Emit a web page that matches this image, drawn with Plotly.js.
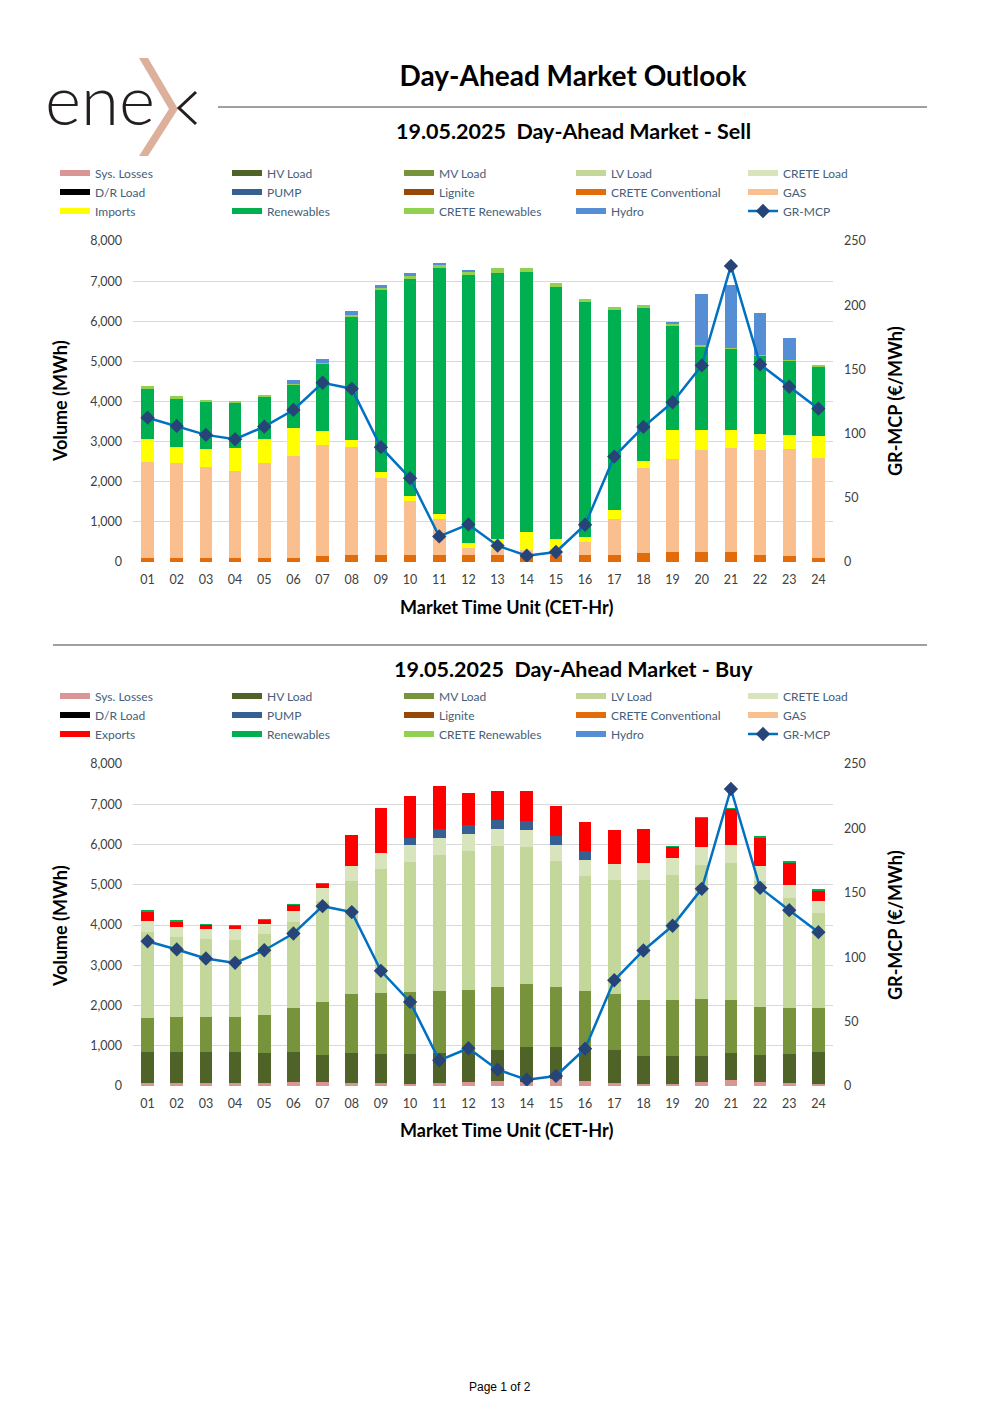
<!DOCTYPE html>
<html>
<head>
<meta charset="utf-8">
<script src="https://cdn.plot.ly/plotly-3.0.1.min.js"></script>
<style>
html,body{margin:0;padding:0;background:#fff;}
#chart{width:1000px;height:1415px;}
</style>
</head>
<body>
<div id="chart"></div>
<script>
// ---------- DATA ----------
const hours = ["01","02","03","04","05","06","07","08","09","10","11","12","13","14","15","16","17","18","19","20","21","22","23","24"];

// GR-MCP (€/MWh)
const mcp = [112.4,106.0,99.0,95.6,105.4,118.4,139.6,135.0,89.4,65.3,19.9,29.3,12.7,4.9,7.8,29.0,82.1,105.2,124.4,153.1,230.6,153.9,136.5,119.4];

// SELL side (MWh)
const sellCreteConv = [100,90,90,90,90,108,140,182,182,182,182,174,174,174,174,174,182,216,240,257,240,182,141,100];
const sellGas       = [2404,2380,2281,2190,2381,2545,2779,2687,1916,1344,896,167,142,125,86,333,896,2139,2339,2546,2596,2604,2678,2487];
const sellImports   = [556,390,440,572,589,697,348,174,141,107,124,141,249,441,306,108,216,157,713,481,456,415,357,547];
const sellRenew     = [1243,1203,1169,1103,1044,1061,1658,3068,4535,5432,6128,6682,6649,6482,6291,5853,4983,3823,2595,2081,2007,1932,1824,1717];
const sellCreteRen  = [75,66,58,50,50,33,42,33,59,58,66,75,108,108,100,83,75,58,33,33,24,33,33,49];
const sellHydro     = [0,0,0,0,0,83,91,100,82,91,67,50,0,0,0,0,0,0,58,1285,1592,1028,556,0];

// BUY side (MWh)
const buyLosses  = [83,83,83,83,83,91,91,66,66,58,66,100,124,100,166,124,66,50,50,100,141,108,75,50];
const buyHV      = [755,763,763,755,747,747,681,764,722,747,764,746,772,871,805,781,822,689,689,655,672,655,730,788];
const buyMV      = [863,864,864,872,938,1096,1311,1452,1527,1527,1527,1544,1560,1568,1494,1452,1394,1402,1394,1403,1320,1195,1137,1104];
const buyLV      = [2125,1983,1941,1925,2008,2141,2515,2822,3087,3245,3386,3461,3511,3403,3128,2863,2838,2988,3120,3344,3419,3146,2738,2365];
const buyCrete   = [274,266,258,257,257,282,331,365,399,415,415,415,415,423,399,390,407,406,423,432,431,365,324,291];
const buyPump    = [0,0,0,0,0,0,0,0,0,166,224,224,224,216,224,224,0,0,0,0,0,0,0,0];
const buyExports = [232,124,83,83,83,133,100,755,1104,1054,1070,788,714,747,738,714,822,855,266,713,897,705,548,257];
const buyRenew   = [33,33,41,33,33,25,17,0,0,0,0,0,0,0,0,0,0,0,25,33,25,25,33,41];

const zeros = hours.map(() => 0);

// series names / colours
const names = {
  loss:"Sys. Losses", hv:"HV Load", mv:"MV Load", lv:"LV Load", crl:"CRETE Load",
  dr:"D/R Load", pump:"PUMP", lig:"Lignite", crc:"CRETE Conventional", gas:"GAS",
  imp:"Imports", exp:"Exports", ren:"Renewables", crr:"CRETE Renewables", hyd:"Hydro", mcp:"GR-MCP"
};
const colors = {
  loss:"#DA9694", hv:"#4F6228", mv:"#77933C", lv:"#C4D79B", crl:"#D8E4BC",
  dr:"#000000", pump:"#376092", lig:"#974706", crc:"#E26B0A", gas:"#FABF8F",
  imp:"#FFFF00", exp:"#FF0000", ren:"#00B050", crr:"#92D050", hyd:"#558ED5",
  mcpLine:"#0070C0", mcpMarker:"#264478"
};

// ---------- helpers ----------
const W = 1000, H = 1415;
const X = p => p / W;
const Y = p => 1 - p / H;
const FONT = "Lato, 'Open Sans', sans-serif";

const traces = [];

function addBars(xa, ya, order, dataMap) {
  order.forEach(k => {
    traces.push({
      type: "bar", x: hours, y: dataMap[k] || zeros, name: names[k],
      marker: {color: colors[k], line: {width: 0}},
      xaxis: xa, yaxis: ya, showlegend: false, hoverinfo: "x+y+name"
    });
  });
}

const stackOrder = ["loss","hv","mv","lv","crl","dr","pump","lig","crc","gas","imp","exp","ren","crr","hyd"];

addBars("x","y", stackOrder, {crc:sellCreteConv, gas:sellGas, imp:sellImports, ren:sellRenew, crr:sellCreteRen, hyd:sellHydro});
addBars("x2","y3", stackOrder, {loss:buyLosses, hv:buyHV, mv:buyMV, lv:buyLV, crl:buyCrete, pump:buyPump, exp:buyExports, ren:buyRenew});

// MCP lines
function mcpTrace(xa, ya, leg) {
  return {
    type: "scatter", mode: "lines+markers", x: hours, y: mcp, name: names.mcp,
    line: {color: colors.mcpLine, width: 2.5},
    marker: {symbol: "diamond", size: 11, color: colors.mcpMarker},
    xaxis: xa, yaxis: ya, legend: leg, showlegend: true
  };
}

// Legend columns (swatch entries)
function legendEntry(k, leg, xa, ya) {
  return {
    type: "scatter", mode: "lines", x: [null], y: [null], name: names[k],
    line: {color: colors[k], width: 6}, xaxis: xa, yaxis: ya,
    legend: leg, showlegend: true, hoverinfo: "skip"
  };
}
const sellCols = [["loss","dr","imp"],["hv","pump","ren"],["mv","lig","crr"],["lv","crc","hyd"],["crl","gas"]];
const buyCols  = [["loss","dr","exp"],["hv","pump","ren"],["mv","lig","crr"],["lv","crc","hyd"],["crl","gas"]];
const colX = [63, 235, 407, 579, 751];

const legends = {};
function buildLegends(cols, base, xa, ya, topPx) {
  cols.forEach((col, i) => {
    const id = (base + i) === 1 ? "legend" : "legend" + (base + i);
    col.forEach(k => traces.push(legendEntry(k, id, xa, ya)));
    if (i === 4) traces.push(mcpTrace(xa, ya === "y" ? "y2" : "y4", id));
    legends[id] = {
      xref: "paper", yref: "paper",
      x: X(colX[i] - 8), y: Y(topPx), xanchor: "left", yanchor: "top",
      orientation: "v", traceorder: "normal", itemwidth: 30, tracegroupgap: 0,
      bgcolor: "rgba(0,0,0,0)", borderwidth: 0,
      font: {family: FONT, size: 12, color: "#44607A"}, itemclick: false, itemdoubleclick: false
    };
  });
}
buildLegends(sellCols, 1, "x", "y", 158.5);
buildLegends(buyCols, 6, "x2", "y3", 681.5);

// ---------- axes ----------
const tickFont = {family: FONT, size: 12.5, color: "#404040"};
const dom = [X(133), X(833)];
function xAxis(anchor) {
  return {domain: dom, anchor: anchor, type: "category", range: [-0.5, hours.length - 0.5],
          showgrid: false, zeroline: false,
          showline: false, ticks: "", tickfont: tickFont, ticklabelstandoff: 8, fixedrange: true, automargin: false};
}
function yLeft(domain, anchor) {
  return {domain: domain, anchor: anchor, range: [0, 8000], dtick: 1000, tick0: 0, tickformat: ",d",
          showgrid: true, gridcolor: "#D9D9D9", gridwidth: 1, zeroline: false, showline: false,
          ticks: "", tickfont: tickFont, ticklabelstandoff: 10, fixedrange: true, automargin: false};
}
function yRight(over, anchor) {
  return {overlaying: over, anchor: anchor, side: "right", range: [0, 250], dtick: 50, tick0: 0,
          showgrid: false, zeroline: false, showline: false, ticks: "", tickfont: tickFont,
          ticklabelstandoff: 10, fixedrange: true, automargin: false};
}

// ---------- annotations ----------
const titleFont = s => ({family: FONT, size: s, color: "#000000", weight: "bold"});
const ann = [];
function addText(text, xp, yp, font, extra) {
  ann.push(Object.assign({text: text, xref: "paper", yref: "paper", x: X(xp), y: Y(yp),
    xanchor: "center", yanchor: "middle", showarrow: false, font: font}, extra || {}));
}
addText("19.05.2025\u00a0\u00a0Day-Ahead Market - Sell", 573, 131, titleFont(21.5));
addText("19.05.2025\u00a0\u00a0Day-Ahead Market - Buy", 573, 669, titleFont(21.5));
addText("Volume (MWh)", 60, 401, titleFont(18), {textangle: -90});
addText("GR-MCP (€/MWh)", 895, 401, titleFont(18), {textangle: -90});
addText("Market Time Unit (CET-Hr)", 506, 607, titleFont(18));
addText("Volume (MWh)", 60, 926, titleFont(18), {textangle: -90});
addText("GR-MCP (€/MWh)", 895, 925, titleFont(18), {textangle: -90});
addText("Market Time Unit (CET-Hr)", 506, 1130, titleFont(18));
addText("Page 1 of 2", 500, 1387, {family: "'Liberation Sans', Arial, sans-serif", size: 12, color: "#000000"});
// logo text
addText("ene", 100, 99, {family: FONT, size: 69, color: "#231F20", weight: 300});

// ---------- shapes ----------
function pathOf(pts) {
  return "M" + pts.map(p => X(p[0]) + "," + Y(p[1])).join(" L") ;
}
const shapes = [
  {type: "line", xref: "paper", yref: "paper", x0: X(218), x1: X(927), y0: Y(107), y1: Y(107),
   line: {color: "#404040", width: 1}},
  {type: "line", xref: "paper", yref: "paper", x0: X(53), x1: X(927), y0: Y(645), y1: Y(645),
   line: {color: "#404040", width: 1}},
  // logo chevron
  {type: "path", xref: "paper", yref: "paper",
   path: pathOf([[139,58],[148,58],[178,109],[148,156],[139,156],[169,109]]) + " Z",
   fillcolor: "#DDB09C", line: {width: 0}},
  {type: "path", xref: "paper", yref: "paper",
   path: pathOf([[196,92],[179,108],[196,124]]),
   line: {color: "#231F20", width: 3}}
];

const layout = Object.assign({
  width: W, height: H, margin: {l: 0, r: 0, t: 0, b: 0, autoexpand: false},
  paper_bgcolor: "#ffffff", plot_bgcolor: "#ffffff",
  barmode: "stack", bargap: 0.57,
  font: {family: FONT},
  title: {text: "Day-Ahead Market Outlook", x: X(573), xanchor: "center", xref: "paper",
          y: Y(76), yanchor: "middle", yref: "paper", font: titleFont(28)},
  xaxis: xAxis("y"),
  yaxis: yLeft([Y(562), Y(241)], "x"),
  yaxis2: yRight("y", "x"),
  xaxis2: xAxis("y3"),
  yaxis3: yLeft([Y(1086), Y(764)], "x2"),
  yaxis4: yRight("y3", "x2"),
  annotations: ann, shapes: shapes, hovermode: "closest"
}, legends);

Plotly.newPlot("chart", traces, layout, {displayModeBar: false, staticPlot: true});
</script>
</body>
</html>
